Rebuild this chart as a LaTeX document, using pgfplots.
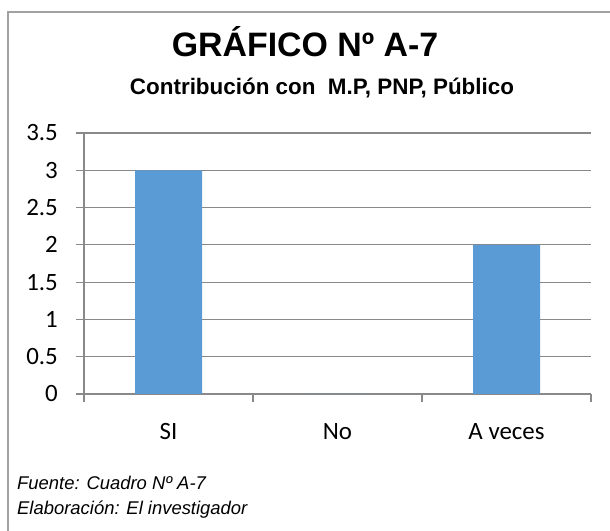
\documentclass[border=0pt]{standalone}
\usepackage{pgfplots}
\pgfplotsset{compat=1.18}
\usepackage{fontspec}
\setmainfont{Liberation Sans}
\newfontfamily\calibri{Carlito}
\definecolor{barblue}{HTML}{5B9BD5}
\definecolor{gridgray}{HTML}{898989}
\begin{document}
\begin{tikzpicture}
\useasboundingbox (0,0) rectangle (610bp,531bp);
\draw[gridgray!80, line width=1.2bp] (8bp,0) -- (8bp,519bp) -- (610bp,519bp);
\node[anchor=base, font=\bfseries\fontsize{34}{40}\selectfont, inner sep=0pt] at (305bp,474bp) {GRÁFICO Nº A-7};
\node[anchor=base, font=\bfseries\fontsize{22.5}{27}\selectfont, inner sep=0pt] at (322bp,436bp) {Contribución con\ \ M.P, PNP, Público};
\node[anchor=base west, font=\itshape\fontsize{18.5}{22}\selectfont, inner sep=0pt] at (17bp,41bp) {Fuente: Cuadro Nº A-7};
\node[anchor=base west, font=\itshape\fontsize{18.5}{22}\selectfont, inner sep=0pt] at (17bp,17bp) {Elaboración: El investigador};
\begin{axis}[
  at={(84bp,137bp)}, anchor=south west,
  scale only axis, width=507bp, height=261bp,
  xmin=-0.5, xmax=2.5, ymin=0, ymax=3.5,
  axis x line=bottom, axis y line=left,
  axis line style={-, draw=gridgray, line width=1.2bp},
  ytick={0,0.5,1,1.5,2,2.5,3,3.5},
  yticklabels={0,0.5,1,1.5,2,2.5,3,3.5},
  ymajorgrids, grid style={draw=gridgray, line width=1.2bp},
  xtick={0,1,2}, xticklabels={SI,No,A veces},
  minor xtick={-0.5,0.5,1.5,2.5},
  major x tick style={draw=none},
  minor x tick style={draw=gridgray, line width=1.2bp},
  ytick style={draw=gridgray, line width=1.2bp},
  tick align=outside, major tick length=8bp, minor tick length=8bp,
  /pgf/number format/assume math mode=true,
  yticklabel style={font=\calibri\fontsize{25}{30}\selectfont, anchor=east, inner sep=0pt, xshift=-18bp},
  xticklabel style={font=\calibri\fontsize{25}{30}\selectfont, anchor=north, inner sep=0pt, yshift=-21bp},
]
\addplot[ybar, bar width=67bp, fill=barblue, draw=none] coordinates {(0,3) (1,0) (2,2)};
\end{axis}
\end{tikzpicture}
\end{document}
